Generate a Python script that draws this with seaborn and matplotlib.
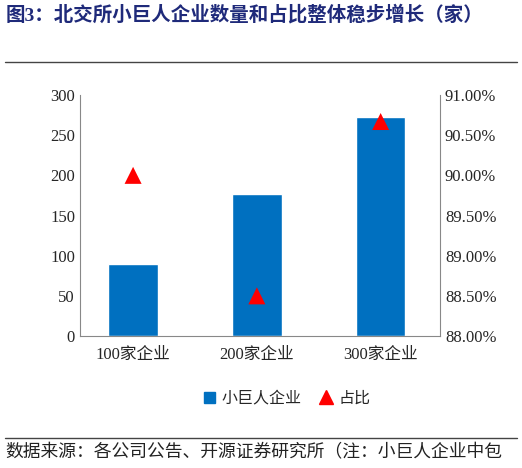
import matplotlib
matplotlib.use('Agg')
import matplotlib.pyplot as plt
import seaborn as sns
import pandas as pd
from matplotlib.lines import Line2D
from matplotlib.patches import Patch
from matplotlib.ticker import FuncFormatter

categories = ['100家企业', '200家企业', '300家企业']
counts = [90, 177, 272]
shares = [90.00, 88.50, 90.67]

sns.set_style('white')
plt.rcParams['font.family'] = ['Liberation Serif', 'Noto Sans CJK SC', 'DejaVu Sans']

fig = plt.figure(figsize=(5.22, 4.68), dpi=100)
ax = fig.add_axes([0.153, 0.282, 0.69, 0.515])
df = pd.DataFrame({'cat': categories, 'count': counts, 'share': shares})
sns.barplot(data=df, x='cat', y='count', color='#0070c0', saturation=1, width=0.4, ax=ax)
ax.set_ylim(0, 300)
ax.set_yticks(range(0, 301, 50))
ax.set_xlabel(None)
ax.set_ylabel(None)

ax2 = ax.twinx()
sns.scatterplot(data=df, x='cat', y='share', marker='^', color='#ff0000', s=150,
                edgecolor='none', ax=ax2, legend=False)
ax2.set_ylim(88.0, 91.0)
ax2.set_yticks([88.0, 88.5, 89.0, 89.5, 90.0, 90.5, 91.0])
ax2.yaxis.set_major_formatter(FuncFormatter(lambda v, p: f'{v:.2f}%'))
ax2.set_ylabel(None)
ax.set_xlim(-0.43, 2.48)
ax2.set_xlim(-0.43, 2.48)

for a in (ax, ax2):
    for s in a.spines.values():
        s.set_visible(False)
    a.tick_params(labelsize=12, length=0)
ax.spines['bottom'].set_visible(True)
ax.spines['bottom'].set_color('#888888')
ax.spines['left'].set_visible(True)
ax.spines['left'].set_color('#888888')
ax2.spines['right'].set_visible(True)
ax2.spines['right'].set_color('#888888')
ax.tick_params(axis='x', pad=8)

handles = [Patch(color='#0070c0', label='小巨人企业'),
           Line2D([], [], marker='^', color='#ff0000', linestyle='none', markersize=10, label='占比')]
fig.legend(handles=handles, loc='center', bbox_to_anchor=(0.55, 0.148), ncol=2, frameon=False,
           fontsize=11.5, handlelength=0.7, handletextpad=0.4, columnspacing=1.2)

fig.text(0.01, 0.968, '图3：北交所小巨人企业数量和占比整体稳步增长（家）', fontsize=14,
         fontweight='bold', color='#1f2a7a', va='center')
fig.add_artist(Line2D([0.01, 0.99], [0.868, 0.868], color='#444444', lw=1))
fig.add_artist(Line2D([0.01, 0.99], [0.064, 0.064], color='#444444', lw=1))
fig.text(0.01, 0.032, '数据来源：各公司公告、开源证券研究所（注：小巨人企业中包', fontsize=12.8,
         color='#222222', va='center')

fig.savefig('out.png', dpi=100)
